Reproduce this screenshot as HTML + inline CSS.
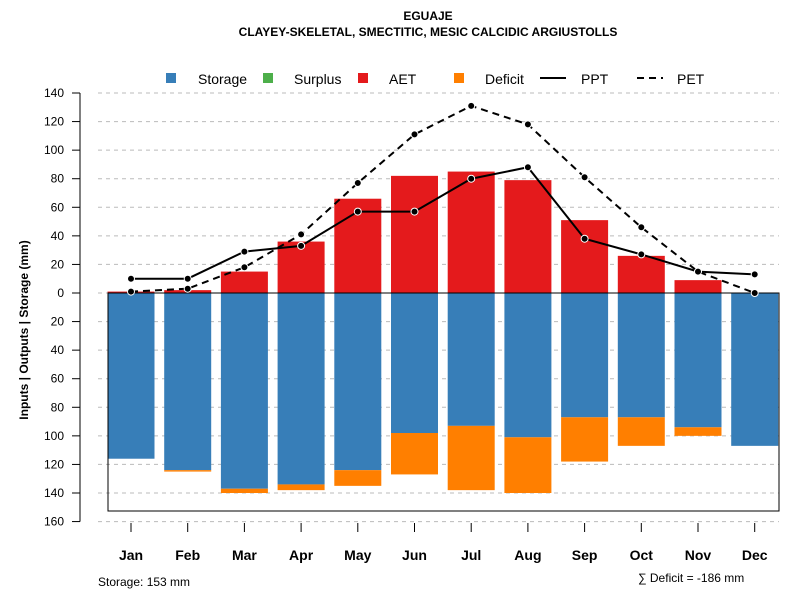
<!DOCTYPE html>
<html><head><meta charset="utf-8"><style>
body{margin:0;background:#fff}
svg text{font-family:"Liberation Sans",sans-serif}
</style></head><body>
<svg id="c" width="800" height="600" xmlns="http://www.w3.org/2000/svg">
<text x="428" y="20" font-size="12" font-weight="bold" text-anchor="middle">EGUAJE</text>
<text x="428" y="36" font-size="12" font-weight="bold" text-anchor="middle">CLAYEY-SKELETAL, SMECTITIC, MESIC CALCIDIC ARGIUSTOLLS</text>
<g id="grid"></g><g id="bars"></g>
<rect x="108" y="293" width="671" height="218" fill="none" stroke="#000" stroke-width="1"/>
<line x1="108" y1="293" x2="779" y2="293" stroke="#000"/>
<g id="lines"></g><g id="axis"></g>
<text transform="translate(28,330) rotate(-90)" font-size="12" font-weight="bold" text-anchor="middle">Inputs | Outputs | Storage    (mm)</text>
<g font-size="14">
<rect x="166" y="73" width="10" height="10" fill="#377eb8"/><text x="198" y="84">Storage</text>
<rect x="263" y="73" width="10" height="10" fill="#4daf4a"/><text x="294" y="84">Surplus</text>
<rect x="358" y="73" width="10" height="10" fill="#e41a1c"/><text x="389" y="84">AET</text>
<rect x="454" y="73" width="10" height="10" fill="#ff7f00"/><text x="485" y="84">Deficit</text>
<line x1="540" y1="78" x2="566" y2="78" stroke="#000" stroke-width="2"/><text x="581" y="84">PPT</text>
<line x1="637" y1="78" x2="663" y2="78" stroke="#000" stroke-width="2" stroke-dasharray="7,5"/><text x="677" y="84">PET</text>
</g>
<text x="98" y="586" font-size="12">Storage: 153 mm</text>
<text x="638" y="582" font-size="12">∑ Deficit = -186 mm</text>
</svg>
<script>
const months=["Jan","Feb","Mar","Apr","May","Jun","Jul","Aug","Sep","Oct","Nov","Dec"];
const storage=[116,124,137,134,124,98,93,101,87,87,94,107];
const deficit=[0,1,3,4,11,29,45,39,31,20,6,0];
const aet=[1,2,15,36,66,82,85,79,51,26,9,0];
const ppt=[10,10,29,33,57,57,80,88,38,27,15,13];
const pet=[1,3,18,41,77,111,131,118,81,46,15,0];
const yTicks=[140,120,100,80,60,40,20,0,20,40,60,80,100,120,160];
const yVals=[140,120,100,80,60,40,20,0,-20,-40,-60,-80,-100,-120,-140,-160];
const NS="http://www.w3.org/2000/svg";
const y=v=>293-v*200/140;
const x=i=>131+i*56.7;
const bw=47;
function mk(t,a,p){const e=document.createElementNS(NS,t);for(const k in a)e.setAttribute(k,a[k]);document.getElementById(p).appendChild(e);return e;}
yVals.forEach(v=>{
 let g=mk('line',{x1:98,x2:779,y1:y(v),y2:y(v),stroke:'#bbb','stroke-dasharray':'4,4'},'grid');
 
 
 let t=mk('line',{x1:72,x2:80,y1:y(v),y2:y(v),stroke:'#000'},'axis');
 
 
 let l=mk('text',{x:64,y:y(v)+4,'font-size':12,'text-anchor':'end'},'axis');l.textContent=Math.abs(v);
 
 
});
let ax=mk('line',{x1:80,x2:80,y1:y(140),y2:y(-160),stroke:'#000'},'axis');


months.forEach((m,i)=>{
 let s=mk('rect',{x:x(i)-bw/2,y:y(0),width:bw,height:y(-storage[i])-y(0),fill:'#377eb8'},'bars');
 
 
 if(deficit[i]>0){let d=mk('rect',{x:x(i)-bw/2,y:y(-storage[i]),width:bw,height:y(-storage[i]-deficit[i])-y(-storage[i]),fill:'#ff7f00'},'bars');
 
 }
 if(aet[i]>0){let a=mk('rect',{x:x(i)-bw/2,y:y(aet[i]),width:bw,height:y(0)-y(aet[i]),fill:'#e41a1c'},'bars');
 
 }
 let t=mk('line',{x1:x(i),x2:x(i),y1:523,y2:532,stroke:'#000'},'axis');
 
 
 let l=mk('text',{x:x(i),y:560,'font-size':14,'font-weight':'bold','text-anchor':'middle'},'axis');l.textContent=m;
 
 
});
function series(vals,name,dash){
 let p=mk('polyline',{points:vals.map((v,i)=>x(i)+','+y(v)).join(' '),fill:'none',stroke:'#000','stroke-width':2,'stroke-dasharray':dash},'lines');
 
 
 vals.forEach((v,i)=>{let c=mk('circle',{cx:x(i),cy:y(v),r:3.5,fill:'#000',stroke:'#fff','stroke-width':1},'lines');
 
 });
}
series(ppt,'ppt','none');
series(pet,'pet','7,5');
</script>
</body></html>
